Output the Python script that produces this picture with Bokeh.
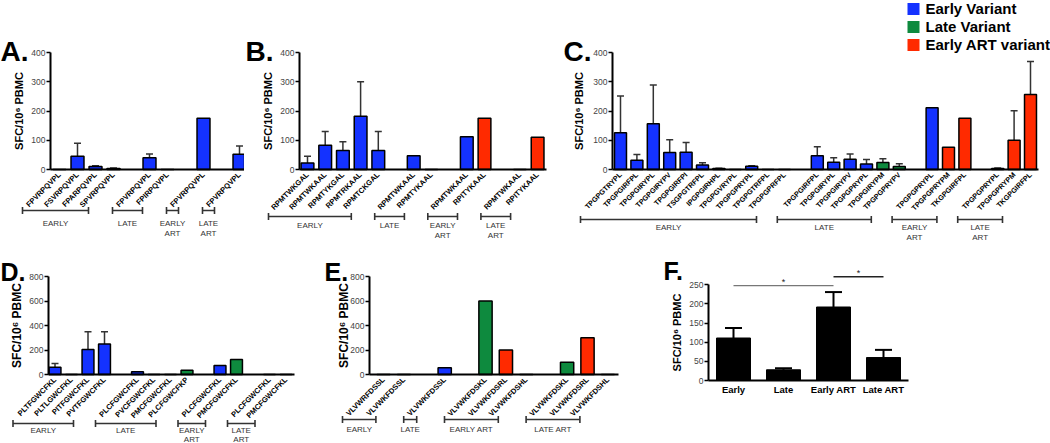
import math
from bokeh.plotting import figure
from bokeh.models import (Range1d, LinearAxis, FixedTicker, ColumnDataSource, Whisker,
                          TeeHead, Legend, LegendItem, CDSView, GroupFilter)
from bokeh.layouts import row, column
from bokeh.embed import file_html
from bokeh.resources import INLINE
from bokeh.core.properties import value

FONT = "Liberation Sans"
VARIANT_COLORS = {"early": "#1432ff", "late": "#0e8a3e", "art": "#ff2a00"}
LEGEND_LABELS = {"early": "Early Variant", "late": "Late Variant", "art": "Early ART variant"}
TWO_LINE = {"EARLY": "EARLY", "LATE": "LATE", "EARLY ART": "EARLY\nART", "LATE ART": "LATE\nART"}
ONE_LINE = {"EARLY": "EARLY", "LATE": "LATE", "EARLY ART": "EARLY ART", "LATE ART": "LATE ART"}
Y_LABEL = "SFC/10\u2076 PBMC"

# ---------------- data ----------------
A_groups = ["EARLY"] * 4 + ["LATE"] * 2 + ["EARLY ART"] + ["LATE ART"]
A_peptides = ["FPVRPQVPL", "FSVRPQVPL", "FPARPQVPL", "SPVRPQVPL",
              "FPVRPQVPL", "FPIRPQVPL", "FPVRPQVPL", "FPVRPQVPL"]
A_values = [0, 45, 10, 3, 40, 0, 175, 52]
A_err = [None, 90, 13, 5, 53, None, None, 80]
A_variant = ["early"] * 8

B_groups = ["EARLY"] * 5 + ["LATE"] * 2 + ["EARLY ART"] * 2 + ["LATE ART"] * 2
B_peptides = ["RPMTWKGAL", "RPMTWKAAL", "RPMTYKGAL", "RPMTRKAAL", "RPMTCKGAL",
              "RPMTWKAAL", "RPMTYKAAL", "RPMTWKAAL", "RPITYKAAL", "RPMTWKAAL", "RPITYKAAL"]
B_values = [22, 83, 65, 182, 65, 47, 0, 112, 175, 0, 110]
B_err = [45, 130, 95, 300, 130, None, None, None, None, None, None]
B_variant = ["early"] * 8 + ["art", "early", "art"]

C_groups = ["EARLY"] * 11 + ["LATE"] * 6 + ["EARLY ART"] * 3 + ["LATE ART"] * 3
C_peptides = ["TPGPGTRYPL", "TPGPGIRFPL", "TPGPGIRYPL", "TPGPGIRYPV", "TPGPGIRFPI",
              "TSGPGTRFPL", "IPGPGIRHPL", "TPGPGVRYPL", "TPGPGPRYPL", "TPGPGTRFPL",
              "TPGPGPRFPL",
              "TPGPGIRFPL", "TPGPGIRYPL", "TPGPGIRYPV", "TPGPGPRYPL", "TPGPGIRYPM",
              "TPGPGPRYPV",
              "TPGPGPRYPL", "TPGPGPRYPM", "TKGPGIRFPL",
              "TPGPGPRYPL", "TPGPGPRYPM", "TKGPGIRFPL"]
C_values = [126, 32, 156, 58, 59, 15, 3, 0, 11, 0, 0,
            47, 25, 35, 19, 24, 10,
            211, 76, 175,
            3, 100, 256]
C_err = [251, 51, 289, 102, 92, 23, 4, None, 13, None, None,
         78, 40, 53, 34, 37, 20,
         None, None, None,
         5, 201, 369]
C_variant = ["early"] * 11 + ["early"] * 4 + ["late"] * 2 + ["early", "art", "art"] + ["early", "art", "art"]

D_groups = ["EARLY"] * 4 + ["LATE"] * 4 + ["EARLY ART"] * 2 + ["LATE ART"] * 2
D_peptides = ["PLTFGWCFKL", "PLTLGWCFKL", "PITFGWCFKL", "PVTFGWCFKL",
              "PLCFGWCFKL", "PVCFGWCFKL", "PMCFGWCFKL", "PLCFGWCFKP",
              "PLCFGWCFKL", "PMCFGWCFKL", "PLCFGWCFKL", "PMCFGWCFKL"]
D_values = [60, 0, 205, 250, 22, 0, 0, 35, 73, 122, 0, 0]
D_err = [90, None, 350, 350, None, None, None, None, None, None, None, None]
D_variant = ["early"] * 7 + ["late", "early", "late", "early", "late"]

E_groups = ["EARLY"] * 2 + ["LATE"] + ["EARLY ART"] * 3 + ["LATE ART"] * 3
E_peptides = ["VLVWRFDSSL", "VLVWKFDSSL", "VLVWKFDSSL",
              "VLVWKFDSKL", "VLVWKFDSRL", "VLVWKFDSHL",
              "VLVWKFDSKL", "VLVWKFDSRL", "VLVWKFDSHL"]
E_values = [0, 0, 55, 600, 200, 0, 100, 300, 0]
E_err = [None] * 9
E_variant = ["early", "early", "early", "late", "art", "art", "late", "art", "art"]

F_categories = ["Early", "Late", "Early ART", "Late ART"]
F_means = [111, 28, 192, 60]
F_err = [137, 32, 231, 80]
F_sig_pairs = [(0, 2), (2, 3)]
F_sig_levels = [248, 271]
F_sig_text = ["*", "*"]

# ---------------- layout geometry (reference pixel positions) ----------------
GEO = {
    "A": dict(box=(0, 0, 244, 243), axis_x=50, s0=59, ds=18.0, y0=169, ytop=52, ymax=400, step=100,
              br_dy=41, tx_dy=49, br_off=(-37, -25), title="A.", title_xy=(0, 51), title_size=28,
              ylab_size=11, ylab_standoff=3, tick_size=8.5, lab_size=7.5, bar_w=0.72, lh=1.15),
    "B": dict(box=(244, 0, 316, 243), axis_x=299, s0=307, ds=17.7, y0=169, ytop=52, ymax=400, step=100,
              br_dy=47, tx_dy=51, br_off=(-39, -27), title="B.", title_xy=(245, 51), title_size=28,
              ylab_size=11, ylab_standoff=3, tick_size=8.5, lab_size=7.5, bar_w=0.72, lh=1.15),
    "C": dict(box=(560, 0, 490, 243), axis_x=612, s0=620, ds=16.4, y0=169, ytop=52, ymax=400, step=100,
              br_dy=50, tx_dy=53, br_off=(-40, -28), title="C.", title_xy=(563, 51), title_size=28,
              ylab_size=11, ylab_standoff=5, tick_size=8.5, lab_size=7.2, bar_w=0.73, lh=1.15),
    "D": dict(box=(0, 243, 310, 200), axis_x=48, s0=54.5, ds=16.5, y0=374, ytop=276, ymax=800, step=200,
              br_dy=49, tx_dy=51, br_off=(-42, -31), title="D.", title_xy=(0, 271), title_size=25,
              ylab_size=12, ylab_standoff=2, tick_size=8.5, lab_size=7.5, bar_w=0.72, lh=1.05),
    "E": dict(box=(310, 243, 325, 200), axis_x=369, s0=383, ds=20.4, y0=374, ytop=276, ymax=800, step=200,
              br_dy=45, tx_dy=50, br_off=(-41, -28), title="E.", title_xy=(324, 271), title_size=25,
              ylab_size=12, ylab_standoff=-4, tick_size=8.5, lab_size=7.5, bar_w=0.65, lh=1.15),
    "F": dict(box=(635, 243, 415, 200), axis_x=708, s0=733, ds=50.0, y0=380, ytop=284.3, ymax=250, step=50,
              title="F.", title_xy=(663, 270), title_size=25,
              ylab_size=11, ylab_standoff=3, tick_size=8.5, bar_w=0.68),
}


def slot_positions(groups):
    pos, cur, prev = [], 0, None
    for g in groups:
        if prev is not None:
            cur += 1 if g == prev else 2
        pos.append(cur)
        prev = g
    return pos


def base_figure(geo):
    ox, oy, w, h = geo["box"]
    s0, ds, y0 = geo["s0"], geo["ds"], geo["y0"]
    py = (y0 - geo["ytop"]) / geo["ymax"]
    X = lambda rx: (rx - s0) / ds
    Y = lambda ry: (y0 - ry) / py
    p = figure(width=w, height=h, x_range=Range1d(X(ox), X(ox + w)),
               y_range=Range1d(Y(oy + h), Y(oy)), output_backend="svg",
               toolbar_location=None, x_axis_location=None, y_axis_location=None,
               min_border=0, min_border_left=0, min_border_right=0,
               min_border_top=0, min_border_bottom=0, title=None)
    p.outline_line_color = None
    p.xgrid.grid_line_color = None
    p.ygrid.grid_line_color = None
    p.background_fill_color = "white"
    p.border_fill_color = "white"

    yax = LinearAxis(fixed_location=X(geo["axis_x"]), bounds=(0, geo["ymax"]),
                     ticker=FixedTicker(ticks=list(range(0, geo["ymax"] + 1, geo["step"]))),
                     axis_label=Y_LABEL)
    yax.axis_line_width = 2
    yax.axis_line_color = "black"
    yax.major_tick_out = 4
    yax.major_tick_in = 0
    yax.major_tick_line_width = 1.5
    yax.minor_tick_out = 0
    yax.minor_tick_in = 0
    yax.major_label_standoff = 1
    yax.major_label_text_font = FONT
    yax.major_label_text_font_size = f"{geo['tick_size']}px"
    yax.major_label_text_color = "#444444"
    yax.axis_label_text_font = FONT
    yax.axis_label_text_font_style = "bold"
    yax.axis_label_text_font_size = f"{geo['ylab_size']}px"
    yax.axis_label_text_color = "black"
    yax.axis_label_standoff = geo["ylab_standoff"]
    p.add_layout(yax, "left")

    tx, ty = geo["title_xy"]
    p.text(x=[X(tx)], y=[Y(ty)], text=[geo["title"]], text_font=value(FONT),
           text_font_size=f"{geo['title_size']}px", text_font_style="bold",
           text_align="left", text_baseline="alphabetic", text_color="black")
    return p, X, Y, py


def peptide_panel(key, groups, peptides, vals, errs, variants, group_names):
    geo = GEO[key]
    p, X, Y, py = base_figure(geo)
    ds = geo["ds"]
    pos = slot_positions(groups)

    xax = LinearAxis(fixed_location=0, bounds=(X(geo["axis_x"]), pos[-1] + 0.5),
                     ticker=FixedTicker(ticks=pos),
                     major_label_overrides={int(x): name for x, name in zip(pos, peptides)})
    xax.major_label_orientation = math.pi / 4
    xax.axis_line_width = 2
    xax.axis_line_color = "black"
    xax.major_tick_out = 0
    xax.major_tick_in = 0
    xax.minor_tick_out = 0
    xax.minor_tick_in = 0
    xax.major_label_standoff = 4
    xax.major_label_text_font = FONT
    xax.major_label_text_font_style = "bold"
    xax.major_label_text_font_size = f"{geo['lab_size']}px"
    xax.major_label_text_color = "black"
    p.add_layout(xax, "below")

    src = ColumnDataSource(dict(x=pos, top=vals, variant=variants,
                                color=[VARIANT_COLORS[v] for v in variants]))
    # coloured fill, one renderer per variant (used by the legend)
    fills = {}
    for k in VARIANT_COLORS:
        if k in variants:
            fills[k] = p.vbar(x="x", top="top", width=geo["bar_w"], source=src,
                              view=CDSView(filter=GroupFilter(column_name="variant", group=k)),
                              fill_color=VARIANT_COLORS[k], line_color=None)
    # black outlines
    p.vbar(x="x", top="top", width=geo["bar_w"], source=src, fill_color=None,
           line_color="black", line_width=1.5)

    ex = [x for x, e in zip(pos, errs) if e is not None]
    if ex:
        esrc = ColumnDataSource(dict(
            x=ex,
            lo=[v for v, e in zip(vals, errs) if e is not None],
            hi=[e for e in errs if e is not None]))
        wk = Whisker(base="x", lower="lo", upper="hi", source=esrc, dimension="height",
                     line_color="#333333", line_width=1.5, lower_head=None,
                     upper_head=TeeHead(size=7, line_color="#333333", line_width=1.5))
        p.add_layout(wk)

    # group brackets and labels
    order = list(dict.fromkeys(groups))
    sx0, sy0, sx1, sy1, tx, tt = [], [], [], [], [], []
    yb = -geo["br_dy"] / py
    cap = 3.5 / py
    for g in order:
        ps = [x for x, gg in zip(pos, groups) if gg == g]
        x0 = ps[0] + geo["br_off"][0] / ds
        x1 = ps[-1] + geo["br_off"][1] / ds
        sx0 += [x0, x0, x1]
        sx1 += [x1, x0, x1]
        sy0 += [yb, yb - cap, yb - cap]
        sy1 += [yb, yb + cap, yb + cap]
        tx.append((x0 + x1) / 2)
        tt.append(group_names[g])
    p.segment(x0=sx0, y0=sy0, x1=sx1, y1=sy1, line_color="#333333", line_width=1.6)
    p.text(x=tx, y=[-geo["tx_dy"] / py] * len(tx), text=tt, text_font=value(FONT),
           text_font_size="8px", text_color="#333333", text_align="center",
           text_baseline="top", text_line_height=geo["lh"])
    return p, fills


pA, _ = peptide_panel("A", A_groups, A_peptides, A_values, A_err, A_variant, TWO_LINE)
pB, _ = peptide_panel("B", B_groups, B_peptides, B_values, B_err, B_variant, TWO_LINE)
pC, fillsC = peptide_panel("C", C_groups, C_peptides, C_values, C_err, C_variant, TWO_LINE)
pD, _ = peptide_panel("D", D_groups, D_peptides, D_values, D_err, D_variant, TWO_LINE)
pE, _ = peptide_panel("E", E_groups, E_peptides, E_values, E_err, E_variant, ONE_LINE)

# legend in panel C (one entry per variant colour)
items = [LegendItem(label=LEGEND_LABELS[k], renderers=[fillsC[k]])
         for k in ["early", "late", "art"]]
legend = Legend(items=items, location="top_right", margin=0, padding=0, spacing=1,
                glyph_width=15, glyph_height=15, label_standoff=5, label_height=15,
                label_text_font=FONT, label_text_font_size="15px", label_text_font_style="bold",
                label_text_color="black", background_fill_alpha=0, border_line_alpha=0)
pC.add_layout(legend)

# panel F
geoF = GEO["F"]
pF, XF, YF, pyF = base_figure(geoF)
fpos = list(range(len(F_categories)))
xF = LinearAxis(fixed_location=0, bounds=(-0.5, len(F_categories) - 0.5),
                ticker=FixedTicker(ticks=fpos),
                major_label_overrides={i: c for i, c in zip(fpos, F_categories)})
xF.axis_line_width = 2
xF.axis_line_color = "black"
xF.major_tick_out = 0
xF.major_tick_in = 0
xF.minor_tick_out = 0
xF.minor_tick_in = 0
xF.major_label_standoff = 3
xF.major_label_text_font = FONT
xF.major_label_text_font_style = "bold"
xF.major_label_text_font_size = "9.5px"
xF.major_label_text_color = "black"
pF.add_layout(xF, "below")

fsrc = ColumnDataSource(dict(x=fpos, top=F_means, hi=F_err))
pF.vbar(x="x", top="top", width=geoF["bar_w"], source=fsrc, fill_color="black",
        line_color="black", line_width=1)
pF.add_layout(Whisker(base="x", lower="top", upper="hi", source=fsrc, dimension="height",
                      line_color="black", line_width=2, lower_head=None,
                      upper_head=TeeHead(size=17, line_color="black", line_width=2)))
sig_colors = ["#777777", "#222222"]
pF.segment(x0=[fpos[a] for a, b in F_sig_pairs], x1=[fpos[b] for a, b in F_sig_pairs],
           y0=F_sig_levels, y1=F_sig_levels, line_color=sig_colors, line_width=1.3)
pF.text(x=[(fpos[a] + fpos[b]) / 2 for a, b in F_sig_pairs],
        y=[lv + 3.5 / pyF for lv in F_sig_levels], text=F_sig_text, text_font=value(FONT),
        text_font_size="9px", text_align="center", text_baseline="middle", text_color="#222222")

layout = column(row(pA, pB, pC), row(pD, pE, pF))

with open("out.html", "w") as f:
    f.write(file_html(layout, INLINE))
